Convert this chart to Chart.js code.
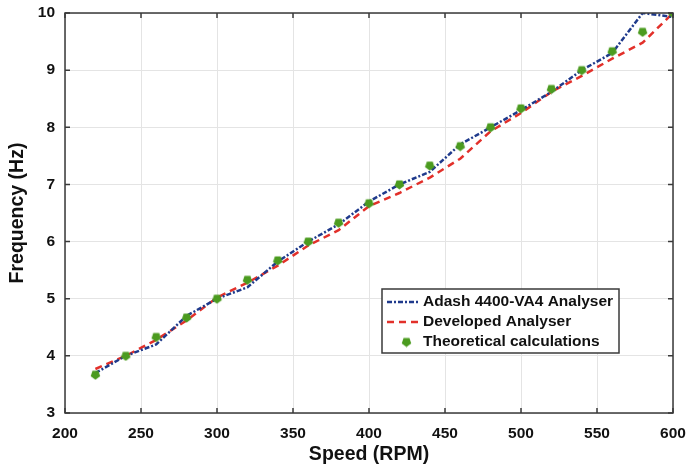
<!DOCTYPE html>
<html>
<head>
<meta charset="utf-8">
<script src="https://cdn.jsdelivr.net/npm/chart.js@4/dist/chart.umd.min.js"></script>
<style>
  html, body { margin: 0; padding: 0; background: #fff; }
  #wrap { width: 689px; height: 473px; }
</style>
</head>
<body>
<div id="wrap"><canvas id="chart" width="689" height="473"></canvas></div>
<script>
'use strict';

// Speed vs frequency, three sources compared.
var speeds = [220, 240, 260, 280, 300, 320, 340, 360, 380, 400, 420, 440, 460, 480, 500, 520, 540, 560, 580, 600];
var adash = [3.70, 4.00, 4.20, 4.70, 5.00, 5.20, 5.65, 6.00, 6.30, 6.70, 7.00, 7.22, 7.70, 8.00, 8.30, 8.62, 9.00, 9.30, 10.00, 9.93];
var developed = [3.77, 4.00, 4.28, 4.62, 5.02, 5.28, 5.58, 5.93, 6.20, 6.62, 6.85, 7.12, 7.45, 7.93, 8.25, 8.62, 8.90, 9.20, 9.48, 10.00];
var theoretical = [3.67, 4.00, 4.33, 4.67, 5.00, 5.33, 5.67, 6.00, 6.33, 6.67, 7.00, 7.33, 7.67, 8.00, 8.33, 8.67, 9.00, 9.33, 9.67, 10.00];
var xTicks = [200, 250, 300, 350, 400, 450, 500, 550, 600];
var yTicks = [3, 4, 5, 6, 7, 8, 9, 10];
var seriesNames = ['Adash 4400-VA4 Analyser', 'Developed Analyser', 'Theoretical calculations'];

var BLUE = '#1f3a8c';
var RED = '#e2302a';
var GREEN = '#4b9b1f';
var FONT = '"Liberation Sans", Arial, Helvetica, sans-serif';

function pair(xs, ys) {
  return xs.map(function (x, i) { return { x: x, y: ys[i] }; });
}

// downward pentagon marker
function makeMarker(size) {
  var c = document.createElement('canvas');
  c.width = size; c.height = size;
  var g = c.getContext('2d');
  var r = size / 2;
  g.fillStyle = GREEN;
  g.beginPath();
  for (var k = 0; k < 5; k++) {
    var a = Math.PI / 2 + k * 2 * Math.PI / 5;
    var px = r + (r - 0.5) * Math.cos(a);
    var py = r + (r - 0.5) * Math.sin(a);
    if (k === 0) g.moveTo(px, py); else g.lineTo(px, py);
  }
  g.closePath();
  g.fill();
  return c;
}
var marker = makeMarker(11);

// box with inward ticks on all sides, like the original figure
var framePlugin = {
  id: 'frame',
  afterDraw: function (chart) {
    var ctx = chart.ctx, a = chart.chartArea;
    var xs = chart.scales.x, ys = chart.scales.y;
    ctx.save();
    ctx.strokeStyle = '#3a3a3a';
    ctx.lineWidth = 1.5;
    ctx.strokeRect(a.left, a.top, a.right - a.left, a.bottom - a.top);
    ctx.beginPath();
    xTicks.forEach(function (v) {
      var p = xs.getPixelForValue(v);
      ctx.moveTo(p, a.bottom); ctx.lineTo(p, a.bottom - 5);
      ctx.moveTo(p, a.top); ctx.lineTo(p, a.top + 5);
    });
    yTicks.forEach(function (v) {
      var p = ys.getPixelForValue(v);
      ctx.moveTo(a.left, p); ctx.lineTo(a.left + 5, p);
      ctx.moveTo(a.right, p); ctx.lineTo(a.right - 5, p);
    });
    ctx.stroke();
    ctx.restore();
  }
};

// legend box inside the plot, lower right
var legendPlugin = {
  id: 'boxLegend',
  afterDraw: function (chart) {
    var ctx = chart.ctx;
    var bx = 382, by = 289, bw = 237, bh = 64;
    ctx.save();
    ctx.fillStyle = '#fff';
    ctx.fillRect(bx, by, bw, bh);
    ctx.strokeStyle = '#3a3a3a';
    ctx.lineWidth = 1.5;
    ctx.strokeRect(bx, by, bw, bh);
    var rows = [302, 322, 342];
    ctx.lineWidth = 2.5;
    ctx.strokeStyle = BLUE;
    ctx.setLineDash([5, 2, 2, 2]);
    ctx.beginPath(); ctx.moveTo(387, rows[0]); ctx.lineTo(420, rows[0]); ctx.stroke();
    ctx.strokeStyle = RED;
    ctx.setLineDash([7, 5]);
    ctx.beginPath(); ctx.moveTo(387, rows[1]); ctx.lineTo(421, rows[1]); ctx.stroke();
    ctx.setLineDash([]);
    ctx.drawImage(marker, 401, rows[2] - 5.5);
    ctx.fillStyle = '#111';
    ctx.font = 'bold 15.5px ' + FONT;
    ctx.textBaseline = 'middle';
    seriesNames.forEach(function (n, i) { ctx.fillText(n, 423, rows[i]); });
    ctx.restore();
  }
};

new Chart(document.getElementById('chart'), {
  type: 'line',
  data: {
    datasets: [
      {
        label: seriesNames[2], data: pair(speeds, theoretical),
        showLine: false, pointStyle: marker, pointRadius: 5.5,
        borderColor: GREEN, backgroundColor: GREEN, order: 0
      },
      {
        label: seriesNames[0], data: pair(speeds, adash),
        borderColor: BLUE, borderWidth: 2.5, borderDash: [5, 2, 2, 2],
        pointRadius: 0, tension: 0, fill: false, order: 1
      },
      {
        label: seriesNames[1], data: pair(speeds, developed),
        borderColor: RED, borderWidth: 2.5, borderDash: [7, 5],
        pointRadius: 0, tension: 0, fill: false, order: 2
      }
    ]
  },
  options: {
    responsive: false,
    animation: false,
    layout: { padding: { top: 13, right: 16, left: 0, bottom: 0 } },
    plugins: { legend: { display: false }, tooltip: { enabled: false } },
    scales: {
      x: {
        type: 'linear', min: 200, max: 600,
        afterBuildTicks: function (s) { s.ticks = xTicks.map(function (v) { return { value: v }; }); },
        afterFit: function (s) { s.height = 60; s.paddingRight = 0; s.paddingLeft = 0; },
        grid: { color: '#e4e4e4', lineWidth: 1, drawTicks: false },
        border: { display: false },
        ticks: { color: '#111', padding: 11, maxRotation: 0, font: { family: FONT, size: 15.5, weight: 'bold' } },
        title: { display: true, text: 'Speed (RPM)', color: '#111', padding: { top: 0, bottom: 7 },
                 font: { family: FONT, size: 19.5, weight: 'bold' } }
      },
      y: {
        type: 'linear', min: 3, max: 10,
        afterBuildTicks: function (s) { s.ticks = yTicks.map(function (v) { return { value: v }; }); },
        afterFit: function (s) { s.width = 65; s.paddingTop = 0; s.paddingBottom = 0; },
        grid: { color: '#e4e4e4', lineWidth: 1, drawTicks: false },
        border: { display: false },
        ticks: { color: '#111', padding: 10, font: { family: FONT, size: 15.5, weight: 'bold' } },
        title: { display: true, text: 'Frequency (Hz)', color: '#111', padding: { top: 6, bottom: 0 },
                 font: { family: FONT, size: 19.5, weight: 'bold' } }
      }
    }
  },
  plugins: [framePlugin, legendPlugin]
});
</script>
</body>
</html>
